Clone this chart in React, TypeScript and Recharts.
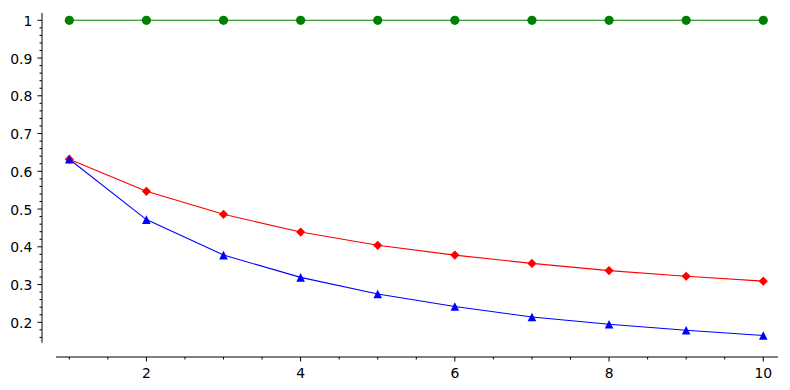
import React from 'react';
import { LineChart, Line, XAxis, YAxis, ReferenceLine } from 'recharts';

const nValues = [1, 2, 3, 4, 5, 6, 7, 8, 9, 10];
const greenValues = [1, 1, 1, 1, 1, 1, 1, 1, 1, 1];
const redValues = [0.632, 0.547, 0.486, 0.439, 0.404, 0.378, 0.356, 0.337, 0.322, 0.309];
const blueValues = [0.632, 0.472, 0.378, 0.319, 0.275, 0.242, 0.214, 0.195, 0.179, 0.165];

const xMajorTicks = [2, 4, 6, 8, 10];
const yMajorTicks = [0.2, 0.3, 0.4, 0.5, 0.6, 0.7, 0.8, 0.9, 1];

const xTicks: number[] = [];
for (let i = 2; i <= 20; i++) xTicks.push(i / 2);
const yTicks: number[] = [];
for (let i = 8; i <= 50; i++) yTicks.push(Math.round(i * 2) / 100);

const data = nValues.map((n, i) => ({ n, green: greenValues[i], red: redValues[i], blue: blueValues[i] }));

const FONT = '"DejaVu Sans", sans-serif';
const FONT_SIZE = 13.9;
const X_DOMAIN: [number, number] = [0.646, 10.191];
const Y_DOMAIN: [number, number] = [0.1081, 1.0193];

const isMajorX = (v: number) => xMajorTicks.some((m) => Math.abs(m - v) < 1e-6);
const isMajorY = (v: number) => yMajorTicks.some((m) => Math.abs(m - v) < 1e-6);

const XTick = (props: any) => {
  const { x, y, payload } = props;
  const major = isMajorX(payload.value);
  return (
    <g>
      <line x1={x} x2={x} y1={y} y2={y + (major ? 4.5 : 2.5)} stroke="#000" strokeWidth={1} />
      {major && (
        <text x={x} y={y + 20.8} textAnchor="middle" fontSize={FONT_SIZE} fontFamily={FONT} fill="#000">
          {String(payload.value)}
        </text>
      )}
    </g>
  );
};

const YTick = (props: any) => {
  const { x, y, payload } = props;
  const major = isMajorY(payload.value);
  const v = payload.value;
  return (
    <g>
      <line x1={x} x2={x - (major ? 4.5 : 2.5)} y1={y} y2={y} stroke="#000" strokeWidth={1} />
      {major && (
        <text x={x - 9.7} y={y + 5.6} textAnchor="end" fontSize={FONT_SIZE} fontFamily={FONT} fill="#000">
          {Math.abs(v - 1) < 1e-6 ? '1' : v.toFixed(1)}
        </text>
      )}
    </g>
  );
};

const CircleDot = (props: any) => {
  const { cx, cy } = props;
  if (cx == null || cy == null) return <g />;
  return <circle cx={cx} cy={cy} r={4.6} fill="#008000" stroke="none" />;
};

const DiamondDot = (props: any) => {
  const { cx, cy } = props;
  if (cx == null || cy == null) return <g />;
  const s = 4.6;
  return <path d={`M${cx},${cy - s}L${cx + s},${cy}L${cx},${cy + s}L${cx - s},${cy}Z`} fill="#ff0000" stroke="none" />;
};

const TriangleDot = (props: any) => {
  const { cx, cy } = props;
  if (cx == null || cy == null) return <g />;
  const s = 4.3;
  return <path d={`M${cx},${cy - s}L${cx + s},${cy + s}L${cx - s},${cy + s}Z`} fill="#0000ff" stroke="none" />;
};

export default function App() {
  return (
    <div style={{ position: 'absolute', left: 0, top: 0, width: 790, height: 390, background: '#fff' }}>
      <LineChart width={790} height={390} data={data} margin={{ top: 13, right: 12, bottom: 0, left: 0 }}>
        <XAxis
          type="number"
          dataKey="n"
          domain={X_DOMAIN}
          allowDataOverflow
          ticks={xTicks}
          interval={0}
          axisLine={false}
          tickLine={false}
          tickSize={0}
          tickMargin={0}
          height={33}
          tick={<XTick />}
        />
        <YAxis
          type="number"
          domain={Y_DOMAIN}
          allowDataOverflow
          ticks={yTicks}
          interval={0}
          axisLine={false}
          tickLine={false}
          tickSize={0}
          tickMargin={0}
          width={42}
          tick={<YTick />}
        />
        <ReferenceLine
          segment={[{ x: X_DOMAIN[0], y: 0.146 }, { x: X_DOMAIN[0], y: Y_DOMAIN[1] }]}
          stroke="#000"
          strokeWidth={1}
          ifOverflow="visible"
        />
        <ReferenceLine
          segment={[{ x: 0.8276, y: Y_DOMAIN[0] }, { x: X_DOMAIN[1], y: Y_DOMAIN[0] }]}
          stroke="#000"
          strokeWidth={1}
          ifOverflow="visible"
        />
        <Line dataKey="green" stroke="#008000" strokeWidth={1.1} dot={<CircleDot />} activeDot={false} isAnimationActive={false} />
        <Line dataKey="red" stroke="#ff0000" strokeWidth={1.1} dot={<DiamondDot />} activeDot={false} isAnimationActive={false} />
        <Line dataKey="blue" stroke="#0000ff" strokeWidth={1.1} dot={<TriangleDot />} activeDot={false} isAnimationActive={false} />
      </LineChart>
    </div>
  );
}
